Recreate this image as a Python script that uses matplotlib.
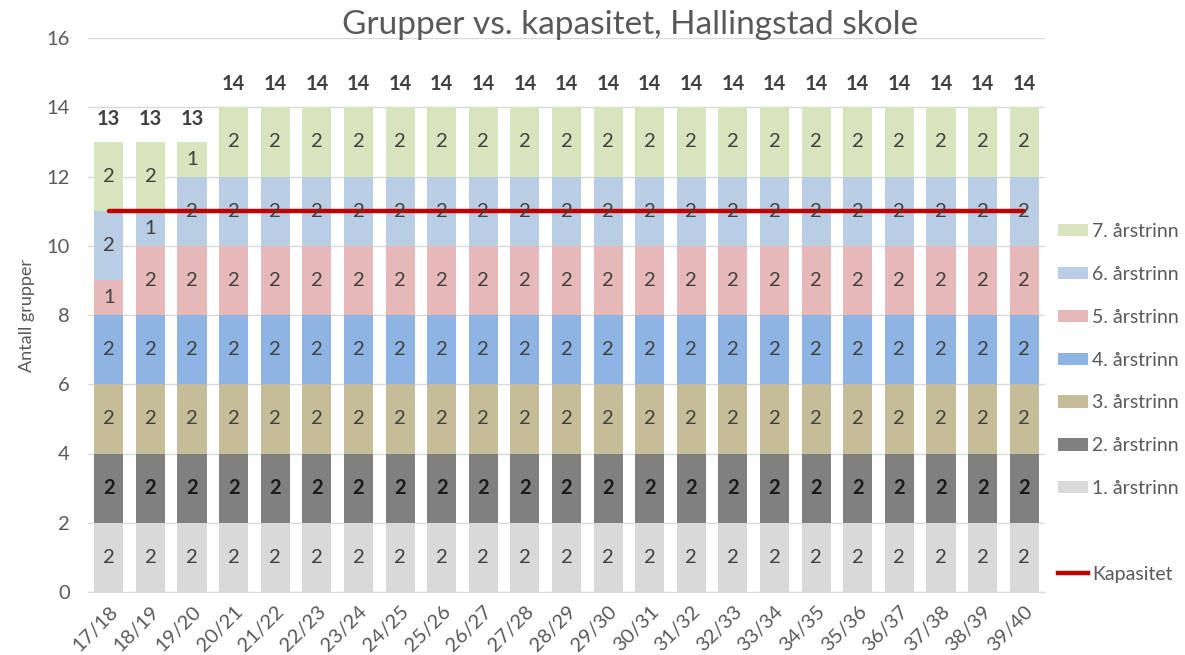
import matplotlib
matplotlib.use("Agg")
import matplotlib.pyplot as plt
from matplotlib.patches import Patch
from matplotlib.lines import Line2D

plt.rcParams['font.family'] = ['Lato', 'DejaVu Sans']

categories = ["17/18", "18/19", "19/20", "20/21", "21/22", "22/23", "23/24", "24/25",
              "25/26", "26/27", "27/28", "28/29", "29/30", "30/31", "31/32", "32/33",
              "33/34", "34/35", "35/36", "36/37", "37/38", "38/39", "39/40"]
n = len(categories)
trinn1 = [2] * n
trinn2 = [2] * n
trinn3 = [2] * n
trinn4 = [2] * n
trinn5 = [1] + [2] * (n - 1)
trinn6 = [2, 1] + [2] * (n - 2)
trinn7 = [2, 2, 1] + [2] * (n - 3)
kapasitet = [11] * n

series = [
    ("1. årstrinn", trinn1, "#d9d9d9", "#404040", "normal"),
    ("2. årstrinn", trinn2, "#808080", "#1a1a1a", "bold"),
    ("3. årstrinn", trinn3, "#c4bd97", "#404040", "normal"),
    ("4. årstrinn", trinn4, "#8db4e2", "#404040", "normal"),
    ("5. årstrinn", trinn5, "#e6b9b8", "#404040", "normal"),
    ("6. årstrinn", trinn6, "#b9cde5", "#404040", "normal"),
    ("7. årstrinn", trinn7, "#d7e4bd", "#404040", "normal"),
]

fig = plt.figure(figsize=(11.85, 6.55), dpi=100)
ax = fig.add_axes([88 / 1185, 1 - 592 / 655, (1045 - 88) / 1185, (592 - 38) / 655])

x = list(range(n))
bottom = [0] * n
handles = []
for name, vals, color, tcolor, tw in series:
    ax.bar(x, vals, bottom=bottom, width=0.7, color=color, zorder=2)
    for xi, v, b in zip(x, vals, bottom):
        ax.text(xi, b + v / 2, str(v), ha='center', va='center', fontsize=14.5,
                color=tcolor, fontweight=tw, zorder=5)
    bottom = [b + v for b, v in zip(bottom, vals)]
    handles.append(Patch(facecolor=color, label=name))

totals = bottom
for xi, t in zip(x, totals):
    ax.text(xi, t + 0.66, str(t), ha='center', va='center', fontsize=14.5,
            fontweight='bold', color='#404040', zorder=5)

ax.plot(x, kapasitet, color='#c00000', linewidth=3.2, zorder=4, solid_capstyle='round')

ax.set_xlim(-0.5, n - 0.5)
ax.set_ylim(0, 16)
ax.set_yticks(range(0, 17, 2))
ax.set_xticks(x)
ax.set_xticklabels(categories, rotation=45, ha='right', rotation_mode='anchor')
ax.tick_params(axis='both', length=0, labelsize=14.5, colors='#595959', pad=8)
ax.tick_params(axis='y', pad=13)
ax.grid(axis='y', color='#d9d9d9', linewidth=1, zorder=0)
ax.set_axisbelow(True)
for s in ['top', 'right', 'left']:
    ax.spines[s].set_visible(False)
ax.spines['bottom'].set_color('#d9d9d9')

ax.set_ylabel("Antall grupper", fontsize=13, color='#595959', labelpad=8)
fig.text(630 / 1185, 1 - 25 / 655, "Grupper vs. kapasitet, Hallingstad skole",
         ha='center', va='center', fontsize=24, color='#595959')

leg_handles = handles[::-1] + [Patch(facecolor='none', edgecolor='none', label=''),
                               Line2D([0], [0], color='#c00000', linewidth=3.2, label='Kapasitet')]
leg = fig.legend(handles=leg_handles, loc='upper left', bbox_to_anchor=(1058 / 1185, 1 - 223 / 655),
                 frameon=False, fontsize=14, labelspacing=1.33, handlelength=1.55,
                 handleheight=0.6, handletextpad=0.2, borderaxespad=0, borderpad=0)
for t in leg.get_texts():
    t.set_color('#595959')

fig.savefig("out.png", dpi=100)
